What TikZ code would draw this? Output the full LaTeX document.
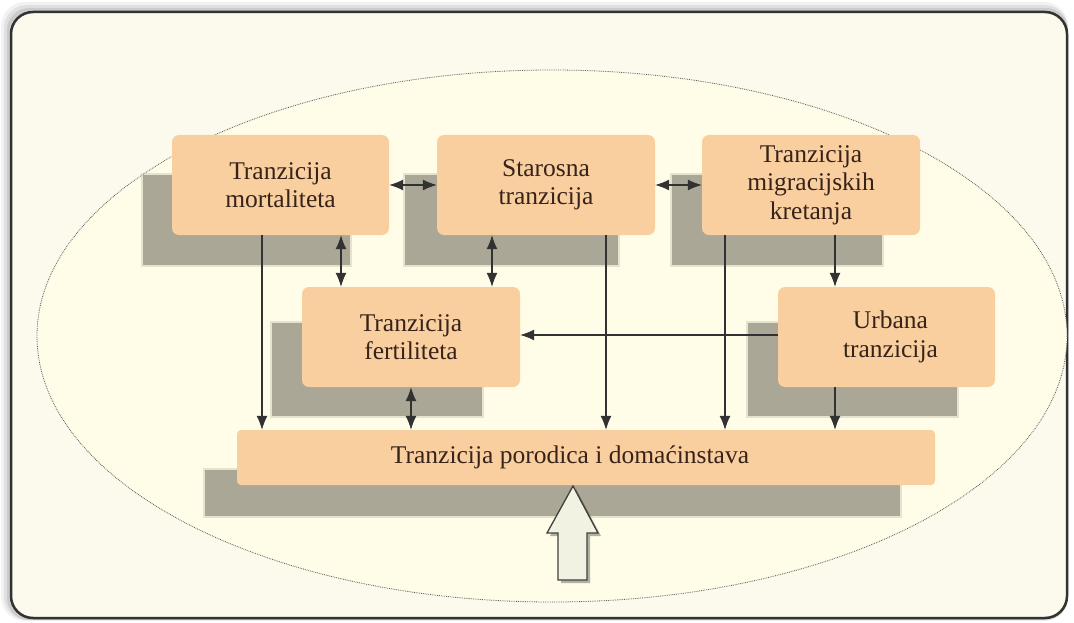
\documentclass[tikz,border=0pt]{standalone}
\usepackage{fontspec}
\setmainfont{Liberation Serif}
\usetikzlibrary{arrows.meta,calc}
\definecolor{bgout}{RGB}{252,250,236}
\definecolor{bgin}{RGB}{255,253,232}
\definecolor{peach}{RGB}{249,207,160}
\definecolor{shad}{RGB}{170,167,150}
\definecolor{txt}{RGB}{55,35,25}
\definecolor{lin}{RGB}{50,50,50}
\definecolor{hollow}{RGB}{242,242,226}
\tikzset{
  box/.style={fill=peach, rounded corners=7pt, inner sep=2pt, align=center,
    text=txt, font=\fontsize{25.5}{28.5}\selectfont, minimum height=100pt},
  shadowrect/.style={fill=shad},
  shadowblur/.style={fill=shad, opacity=0.3},
  arr/.style={draw=lin, line width=1.1pt, -{Latex[length=14pt,width=11pt]}},
  darr/.style={draw=lin, line width=1.1pt, {Latex[length=14pt,width=11pt]}-{Latex[length=14pt,width=11pt]}},
}
\newcommand{\shadowat}[4]{%
  \fill[shadowblur] (#1-2,#2-2) rectangle (#3+2,#4+2);
  \fill[shadowrect] (#1,#2) rectangle (#3,#4);}
\begin{document}
\begin{tikzpicture}[x=1pt,y=-1pt]
\useasboundingbox (0,0) rectangle (1074,623);
\fill[white] (0,0) rectangle (1074,623);
% frame shadow
\fill[black,opacity=0.05,rounded corners=24pt] (1,2) rectangle (1068,621);
\fill[black,opacity=0.07,rounded corners=23pt] (4,5) rectangle (1068,620);
\fill[black,opacity=0.09,rounded corners=22pt] (7,8) rectangle (1068,620);
% frame
\draw[fill=bgout, draw=lin, line width=2.5pt, rounded corners=22pt] (11,12) rectangle (1067,618);
% ellipse
\draw[fill=bgin, draw=black!65, line width=0.8pt, densely dotted] (552,336) ellipse [x radius=515, y radius=266];
% shadows
\shadowat{143}{175}{350}{265}
\shadowat{405}{175}{618}{265}
\shadowat{672}{175}{882}{265}
\shadowat{272}{323}{482}{416}
\shadowat{748}{323}{957}{416}
\shadowat{205}{470}{900}{516}
% boxes
\node[box, minimum width=217pt] (mort) at (280.5,185) {Tranzicija\\mortaliteta};
\node[box, minimum width=218pt] (star) at (546,185) {Starosna\\tranzicija};
\node[box, minimum width=218pt] (migr) at (811,185) {Tranzicija\\migracijskih\\kretanja};
\node[box, minimum width=218pt] (fert) at (411,337) {Tranzicija\\fertiliteta};
\node[box, minimum width=217pt] (urb) at (886.5,337) {\hspace*{8pt}Urbana\\\hspace*{8pt}tranzicija};
\node[box, minimum width=698pt, minimum height=55pt, rounded corners=4pt] (por) at (586,457.5) {\hspace*{-32pt}Tranzicija porodica i domaćinstava};
% connectors
\draw[darr] (mort.east) -- (star.west);
\draw[darr] (star.east) -- (migr.west);
\draw[darr] ([xshift=60.5pt]mort.south) -- ([xshift=60.5pt]mort.south |- fert.north);
\draw[darr] ([xshift=-54pt]star.south) -- ([xshift=-54pt]star.south |- fert.north);
\draw[arr] ([xshift=-18.5pt]mort.south) -- ([xshift=-18.5pt]mort.south |- por.north);
\draw[arr] ([xshift=60pt]star.south) -- ([xshift=60pt]star.south |- por.north);
\draw[arr] ([xshift=-86pt]migr.south) -- ([xshift=-86pt]migr.south |- por.north);
\draw[arr] ([xshift=24pt]migr.south) -- ([xshift=24pt]migr.south |- urb.north);
\draw[arr] ([xshift=-51.5pt]urb.south) -- ([xshift=-51.5pt]urb.south |- por.north);
\draw[arr] ([yshift=2pt]urb.west) -- ([yshift=2pt]urb.west -| fert.east);
\draw[darr] (fert.south) -- (fert.south |- por.north);
% hollow arrow
\fill[black,opacity=0.3] (576,489) -- (601,536) -- (590,536) -- (590,583) -- (561,583) -- (561,536) -- (550,536) -- cycle;
\draw[fill=hollow, draw=black!75, line width=1.3pt, line join=miter] (573,486) -- (598,533) -- (587,533) -- (587,580) -- (558,580) -- (558,533) -- (547,533) -- cycle;
\end{tikzpicture}
\end{document}
